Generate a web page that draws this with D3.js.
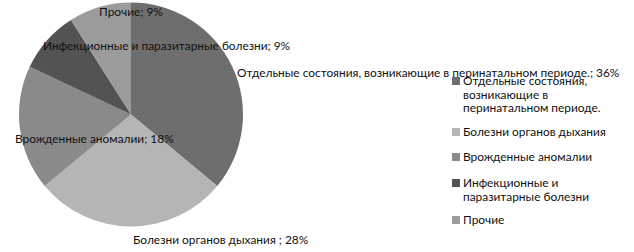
<!DOCTYPE html>
<html><head><meta charset="utf-8">
<script src="https://cdn.jsdelivr.net/npm/d3@7"></script>
<style>body{margin:0;background:#fff}svg{display:block}text{font-family:Lato,"Open Sans",sans-serif;font-size:11.9px;fill:#111}</style>
</head><body>
<svg id="c" width="634" height="252"></svg>
<script>
const categories = ["Отдельные состояния, возникающие в перинатальном периоде.", "Болезни органов дыхания ", "Врожденные аномалии", "Инфекционные и паразитарные болезни", "Прочие"];
const values = [36, 28, 18, 9, 9];
const legendLines = [["Отдельные состояния,", "возникающие в", "перинатальном периоде."], ["Болезни органов дыхания"], ["Врожденные аномалии"], ["Инфекционные и", "паразитарные болезни"], ["Прочие"]];
const colors = ["#6e6e6e", "#b5b5b5", "#8a8a8a", "#535353", "#9b9b9b"];

const svg = d3.select("#c");
const cx = 131, cy = 114.5, R = 112;
const pie = d3.pie().sort(null).value(d => d)(values);
const arc = d3.arc().innerRadius(0).outerRadius(R);
const g = svg.append("g").attr("transform", `translate(${cx},${cy})`);
g.selectAll("path").data(pie).join("path").attr("d", arc).attr("fill", (d, i) => colors[i]);

// data labels (layout offsets relative to pie center; anchor start)
const labelPos = [[106, -42], [2, 125], [-116, 24], [-88, -69], [-32, -103]];
svg.append("g").attr("transform", `translate(${cx},${cy})`).selectAll("text").data(pie).join("text")
  .attr("x", (d, i) => labelPos[i][0]).attr("y", (d, i) => labelPos[i][1])
  .attr("dy", "0.35em")
  .text((d, i) => `${categories[i]}; ${d3.format(".0%")(d.data / d3.sum(values))}`);

// legend
const legendY = [81, 132, 157, 183, 220];
const lg = svg.append("g").attr("transform", "translate(452,0)");
const items = lg.selectAll("g").data(legendLines).join("g").attr("transform", (d, i) => `translate(0,${legendY[i]})`);
items.append("rect").attr("x", 0).attr("y", -4).attr("width", 8).attr("height", 8).attr("fill", (d, i) => colors[i]);
items.each(function(lines) {
  const t = d3.select(this).append("text").attr("x", 11).attr("y", 0);
  lines.forEach((l, j) => t.append("tspan").attr("x", 11).attr("dy", j === 0 ? "0.35em" : "1.14em").text(l));
});
</script>
</body></html>
